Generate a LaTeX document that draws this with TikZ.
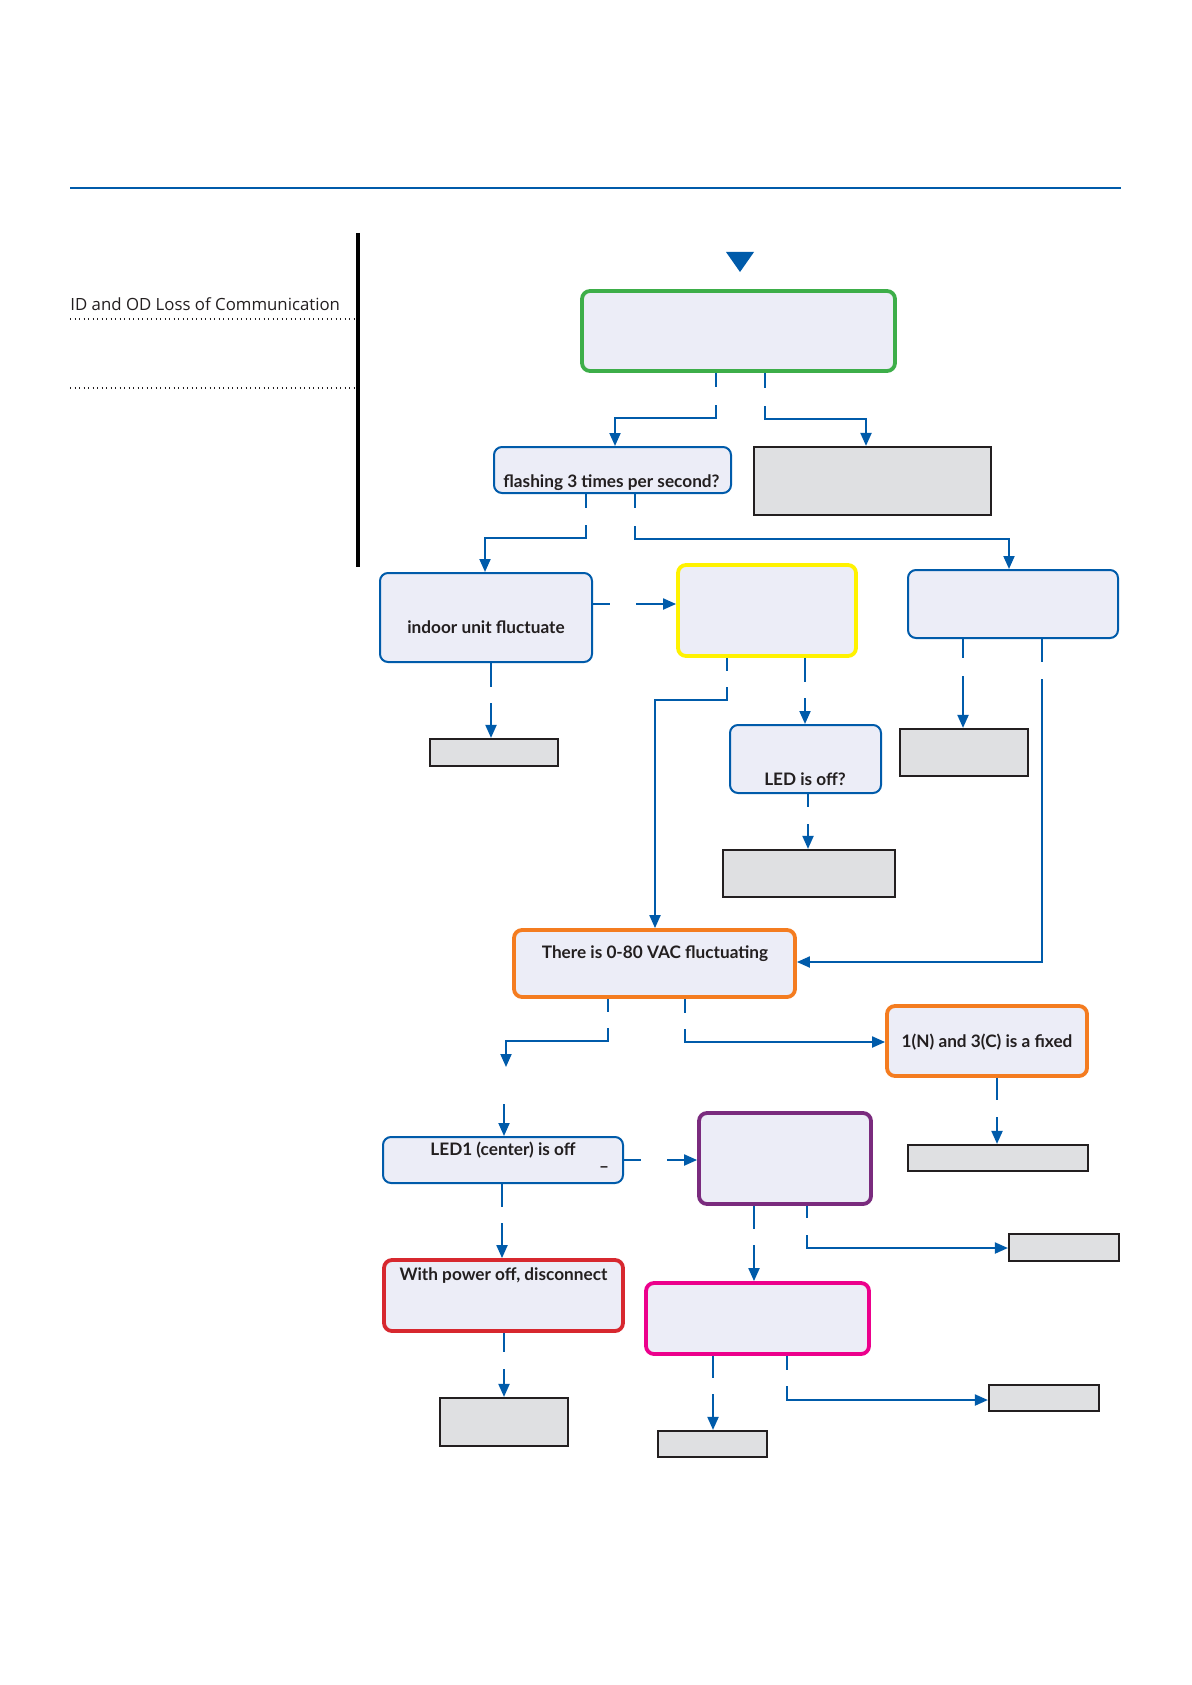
\documentclass[tikz,border=0pt]{standalone}
\usepackage{fontspec}
\setmainfont{Lato}
\newfontfamily\titlefont{Open Sans}
\usetikzlibrary{arrows.meta}
\definecolor{lnblue}{RGB}{0,91,170}
\definecolor{boxfill}{RGB}{236,237,247}
\definecolor{grayfill}{RGB}{223,224,226}
\definecolor{grayline}{RGB}{35,31,32}
\definecolor{textcol}{RGB}{35,31,32}
\definecolor{cgreen}{RGB}{61,174,73}
\definecolor{cyellow}{RGB}{255,242,0}
\definecolor{corange}{RGB}{244,124,32}
\definecolor{cpurple}{RGB}{122,43,126}
\definecolor{cred}{RGB}{215,40,47}
\definecolor{cmagenta}{RGB}{236,0,140}
\begin{document}
\begin{tikzpicture}[x=0.5pt,y=-0.5pt,
  conn/.style={draw=lnblue,line width=1pt},
  arr/.style={conn,-{Triangle[width=5.5pt,length=6.5pt]}},
  sz/.style 2 args={minimum width=#1*0.5pt,minimum height=#2*0.5pt},
  box/.style={rectangle,rounded corners=4pt,fill=boxfill,inner sep=0pt},
  bluebox/.style={box,draw=lnblue,line width=1pt},
  colbox/.style={box,line width=1.9pt},
  graybox/.style={rectangle,fill=grayfill,draw=grayline,line width=1.1pt,inner sep=0pt},
  txt/.style={font=\bfseries\fontsize{8.6}{10}\selectfont,text=textcol,anchor=base,inner sep=0pt},
]
\useasboundingbox (0,0) rectangle (1191,1685);
% header
\draw[lnblue,line width=1.1pt] (70,188) -- (1121,188);
\draw[black,line width=1.6pt] (358,233) -- (358,567);
\node[anchor=base west,inner sep=0pt,text=textcol,font=\titlefont\fontsize{8.4}{10}\selectfont] (title) at (70,310) {ID and OD Loss of Communication};
\draw[textcol,line width=0.6pt,dash pattern=on 0.5pt off 1.75pt] (70,319) -- (357,319);
\draw[textcol,line width=0.6pt,dash pattern=on 0.5pt off 1.75pt] (70,388) -- (357,388);
% start marker
\fill[lnblue] (726,252) -- (754,252) -- (740,272) -- cycle;
% boxes
\node[colbox,draw=cgreen,sz={313}{80}] (green) at (738.5,331) {};
\node[bluebox,sz={237}{46}] (flash) at (612.5,470) {};
\node[graybox,sz={237}{68}] (gray1) at (872.5,481) {};
\node[bluebox,sz={212}{89}] (indoor) at (486,617.5) {};
\node[colbox,draw=cyellow,sz={178}{91}] (yellow) at (767,610.5) {};
\node[bluebox,sz={210}{68}] (rbox) at (1013,604) {};
\node[graybox,sz={128}{27}] (gray2) at (494,752.5) {};
\node[bluebox,sz={151}{68}] (ledoff) at (805.5,759) {};
\node[graybox,sz={128}{47}] (gray3) at (964,752.5) {};
\node[graybox,sz={172}{47}] (gray4) at (809,873.5) {};
\node[colbox,draw=corange,sz={281}{67}] (orange) at (654.5,963.5) {};
\node[colbox,draw=corange,sz={200}{70}] (orange2) at (987,1041) {};
\node[bluebox,sz={240}{46}] (led1) at (503,1160) {};
\node[colbox,draw=cpurple,sz={172}{91}] (purple) at (785,1158.5) {};
\node[graybox,sz={180}{26}] (gray5) at (998,1158) {};
\node[colbox,draw=cred,sz={239}{71}] (red) at (503.5,1295.5) {};
\node[graybox,sz={110}{27}] (gray6) at (1064,1247.5) {};
\node[colbox,draw=cmagenta,sz={223}{71}] (magenta) at (757.5,1318.5) {};
\node[graybox,sz={128}{48}] (gray7) at (504,1422) {};
\node[graybox,sz={109}{26}] (gray8) at (712.5,1444) {};
\node[graybox,sz={110}{26}] (gray9) at (1044,1398) {};
% texts
\node[txt] (tflash) at (611.5,487) {flashing 3 times per second?};
\node[txt] (tindoor) at (486,633) {indoor unit fluctuate};
\node[txt] (tledoff) at (805,785) {LED is off?};
\node[txt] (torange) at (655,958) {There is 0-80 VAC fluctuating};
\node[txt] (torange2) at (987,1047) {1(N) and 3(C) is a fixed};
\node[txt] (tled1) at (503,1155) {LED1 (center) is off};
\node[txt,anchor=center] (tdash) at (604,1170) {–};
\node[txt] (tred) at (503.5,1280) {With power off, disconnect};
% connector coordinates
\coordinate (c1a) at (716,387); \coordinate (c1b) at (716,405); \coordinate (c1c) at (615,418);
\coordinate (c2a) at (765,388); \coordinate (c2b) at (765,406); \coordinate (c2c) at (866,419);
\coordinate (c3a) at (586,508); \coordinate (c3b) at (586,525); \coordinate (c3c) at (485,538);
\coordinate (c4a) at (635,508); \coordinate (c4b) at (635,526); \coordinate (c4c) at (1009,539);
\coordinate (c5a) at (610,604); \coordinate (c5b) at (636,604);
\coordinate (c6a) at (491,687); \coordinate (c6b) at (491,703);
\coordinate (c7a) at (727,671); \coordinate (c7b) at (727,687); \coordinate (c7c) at (655,700);
\coordinate (c8a) at (805,682); \coordinate (c8b) at (805,698);
\coordinate (c9a) at (963,658); \coordinate (c9b) at (963,676);
\coordinate (c10a) at (1042,662); \coordinate (c10b) at (1042,679); \coordinate (c10c) at (1042,962);
\coordinate (c11a) at (808,807); \coordinate (c11b) at (808,824);
\coordinate (c12a) at (608,1012); \coordinate (c12b) at (608,1028); \coordinate (c12c) at (506,1041);
\coordinate (c12d) at (506,1067); \coordinate (c12e) at (504,1104);
\coordinate (c13a) at (685,1013); \coordinate (c13b) at (685,1029); \coordinate (c13c) at (685,1042);
\coordinate (c14a) at (997,1100); \coordinate (c14b) at (997,1117);
\coordinate (c15a) at (641,1160); \coordinate (c15b) at (667,1160);
\coordinate (c16a) at (502,1207); \coordinate (c16b) at (502,1223);
\coordinate (c17a) at (504,1352); \coordinate (c17b) at (504,1369);
\coordinate (c18a) at (754,1229); \coordinate (c18b) at (754,1245);
\coordinate (c19a) at (807,1218); \coordinate (c19b) at (807,1235); \coordinate (c19c) at (807,1248);
\coordinate (c20a) at (713,1378); \coordinate (c20b) at (713,1394);
\coordinate (c21a) at (787,1370); \coordinate (c21b) at (787,1386); \coordinate (c21c) at (787,1400);
% connectors
\draw[conn] (green.south -| c1a) -- (c1a);
\draw[arr] (c1b) |- (c1c) -- (flash.north -| c1c);
\draw[conn] (green.south -| c2a) -- (c2a);
\draw[arr] (c2b) |- (c2c) -- (gray1.north -| c2c);
\draw[conn] (flash.south -| c3a) -- (c3a);
\draw[arr] (c3b) |- (c3c) -- (indoor.north -| c3c);
\draw[conn] (flash.south -| c4a) -- (c4a);
\draw[arr] (c4b) |- (c4c) -- (rbox.north -| c4c);
\draw[conn] (indoor.east |- c5a) -- (c5a);
\draw[arr] (c5b) -- (yellow.west |- c5b);
\draw[conn] (indoor.south -| c6a) -- (c6a);
\draw[arr] (c6b) -- (gray2.north -| c6b);
\draw[conn] (yellow.south -| c7a) -- (c7a);
\draw[arr] (c7b) |- (c7c) -- (orange.north -| c7c);
\draw[conn] (yellow.south -| c8a) -- (c8a);
\draw[arr] (c8b) -- (ledoff.north -| c8b);
\draw[conn] (rbox.south -| c9a) -- (c9a);
\draw[arr] (c9b) -- (gray3.north -| c9b);
\draw[conn] (rbox.south -| c10a) -- (c10a);
\draw[arr] (c10b) -- (c10c) -- (orange.east |- c10c);
\draw[conn] (ledoff.south -| c11a) -- (c11a);
\draw[arr] (c11b) -- (gray4.north -| c11b);
\draw[conn] (orange.south -| c12a) -- (c12a);
\draw[arr] (c12b) |- (c12c) -- (c12d);
\draw[arr] (c12e) -- (led1.north -| c12e);
\draw[conn] (orange.south -| c13a) -- (c13a);
\draw[arr] (c13b) -- (c13c) -- (orange2.west |- c13c);
\draw[conn] (orange2.south -| c14a) -- (c14a);
\draw[arr] (c14b) -- (gray5.north -| c14b);
\draw[conn] (led1.east |- c15a) -- (c15a);
\draw[arr] (c15b) -- (purple.west |- c15b);
\draw[conn] (led1.south -| c16a) -- (c16a);
\draw[arr] (c16b) -- (red.north -| c16b);
\draw[conn] (red.south -| c17a) -- (c17a);
\draw[arr] (c17b) -- (gray7.north -| c17b);
\draw[conn] (purple.south -| c18a) -- (c18a);
\draw[arr] (c18b) -- (magenta.north -| c18b);
\draw[conn] (purple.south -| c19a) -- (c19a);
\draw[arr] (c19b) -- (c19c) -- (gray6.west |- c19c);
\draw[conn] (magenta.south -| c20a) -- (c20a);
\draw[arr] (c20b) -- (gray8.north -| c20b);
\draw[conn] (magenta.south -| c21a) -- (c21a);
\draw[arr] (c21b) -- (c21c) -- (gray9.west |- c21c);
\end{tikzpicture}
\end{document}
